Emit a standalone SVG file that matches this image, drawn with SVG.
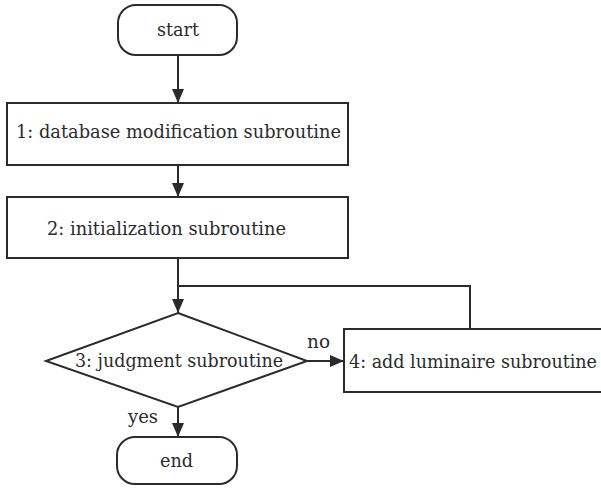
<svg xmlns="http://www.w3.org/2000/svg" width="601" height="490" viewBox="0 0 601 490">
<defs>
<marker id="arr" viewBox="0 0 14 12" refX="14" refY="6" markerWidth="14" markerHeight="12" markerUnits="userSpaceOnUse" orient="auto">
<path d="M0,0 L14,6 L0,12 Z" fill="#2b2b2b"/>
</marker>
<style>
.shape{fill:#fff;stroke:#2b2b2b;stroke-width:2}
.line{fill:none;stroke:#2b2b2b;stroke-width:2}
text{font-family:"DejaVu Serif","Liberation Serif",serif;font-size:18.5px;fill:#2b2b2b}
</style>
</defs>
<rect width="601" height="490" fill="#fff"/>
<g id="connectors">
<line class="line" x1="178" y1="55" x2="178" y2="103" marker-end="url(#arr)"/>
<line class="line" x1="178" y1="165" x2="178" y2="197" marker-end="url(#arr)"/>
<line class="line" x1="178" y1="258" x2="178" y2="313" marker-end="url(#arr)"/>
<polyline class="line" points="470,329 470,286 178,286"/>
<line class="line" x1="307" y1="361" x2="344" y2="361" marker-end="url(#arr)"/>
<line class="line" x1="178" y1="407" x2="178" y2="437" marker-end="url(#arr)"/>
<text x="307" y="348" textLength="23" lengthAdjust="spacingAndGlyphs">no</text>
<text x="128" y="423" textLength="30" lengthAdjust="spacingAndGlyphs">yes</text>
</g>
<g id="start">
<rect class="shape" x="118" y="5" width="119" height="50" rx="18" ry="18"/>
<text x="157" y="36" textLength="42" lengthAdjust="spacingAndGlyphs">start</text>
</g>
<g id="node1">
<rect class="shape" x="7" y="103" width="341" height="62"/>
<text x="16" y="138" textLength="325" lengthAdjust="spacingAndGlyphs">1: database modification subroutine</text>
</g>
<g id="node2">
<rect class="shape" x="7" y="197" width="341" height="61"/>
<text x="47" y="235" textLength="239" lengthAdjust="spacingAndGlyphs">2: initialization subroutine</text>
</g>
<g id="node3">
<polygon class="shape" points="178,313 307,361 178,407 46,361"/>
<text x="75" y="367" textLength="208" lengthAdjust="spacingAndGlyphs">3: judgment subroutine</text>
</g>
<g id="node4">
<rect class="shape" x="344" y="329" width="260" height="63"/>
<text x="349" y="368" textLength="248" lengthAdjust="spacingAndGlyphs">4: add luminaire subroutine</text>
</g>
<g id="end">
<rect class="shape" x="117" y="437" width="120" height="47" rx="18" ry="18"/>
<text x="160" y="467" textLength="33" lengthAdjust="spacingAndGlyphs">end</text>
</g>
</svg>
